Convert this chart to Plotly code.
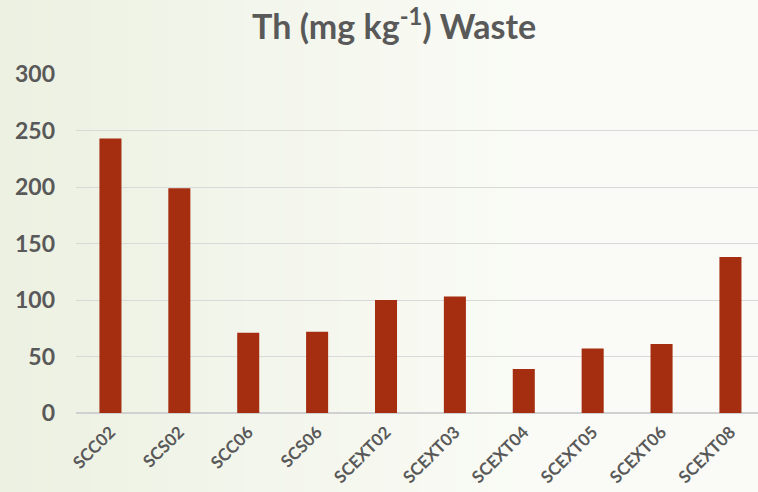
import plotly.graph_objects as go

categories = ["SCC02", "SCS02", "SCC06", "SCS06", "SCEXT02", "SCEXT03",
              "SCEXT04", "SCEXT05", "SCEXT06", "SCEXT08"]
th_values = [243, 199, 71, 72, 100, 103, 39, 57, 61, 138]
y_ticks = [0, 50, 100, 150, 200, 250, 300]

fig = go.Figure(go.Bar(
    x=categories, y=th_values,
    marker=dict(color="#A52D10", line=dict(width=0)),
    width=0.32,
))

# soft background gradient (greenish left -> near white right)
def mix(c1, c2, t):
    return "#%02x%02x%02x" % tuple(round(a + (b - a) * t) for a, b in zip(c1, c2))

left_c = (236, 241, 226)
right_c = (250, 251, 246)
x_start, x_end = -0.12, 1.01
n = 40
shapes = []
for i in range(n):
    t = min(1.0, (i / (n - 1)) / 0.7)
    x0 = x_start + (x_end - x_start) * i / n
    x1 = x_start + (x_end - x_start) * (i + 1) / n + 0.002
    shapes.append(dict(type="rect", xref="paper", yref="paper",
                       x0=x0, x1=x1, y0=-0.35, y1=1.35,
                       layer="below", line=dict(width=0),
                       fillcolor=mix(left_c, right_c, t)))

font_family = "Lato, Open Sans, sans-serif"
fig.update_layout(
    width=758, height=492,
    margin=dict(l=76, r=0, t=74, b=79),
    paper_bgcolor="#f6f8f0",
    plot_bgcolor="rgba(0,0,0,0)",
    showlegend=False,
    shapes=shapes,
    title=dict(text="<b>Th (mg kg<sup>-1</sup>) Waste</b>",
               x=0.52, xanchor="center", y=0.945, yanchor="middle",
               font=dict(family=font_family, size=34, color="#595959")),
)
fig.update_xaxes(
    range=[-0.5, 9.4], tickangle=-45, showgrid=False, automargin=False,
    tickfont=dict(family=font_family, size=17, color="#595959", weight="bold"),
    showline=False, ticks="", ticklabelstandoff=5,
)
fig.update_yaxes(
    range=[0, 300], tickvals=y_ticks, automargin=False,
    gridcolor="#d9d9d9", gridwidth=1,
    zeroline=True, zerolinecolor="#d0d0d0", zerolinewidth=2,
    tickfont=dict(family=font_family, size=23, color="#595959", weight="bold"),
    ticklabelstandoff=20,
)
fig.write_html("out.html", config={"displayModeBar": False},
               post_script="document.body.style.margin='0px';")
